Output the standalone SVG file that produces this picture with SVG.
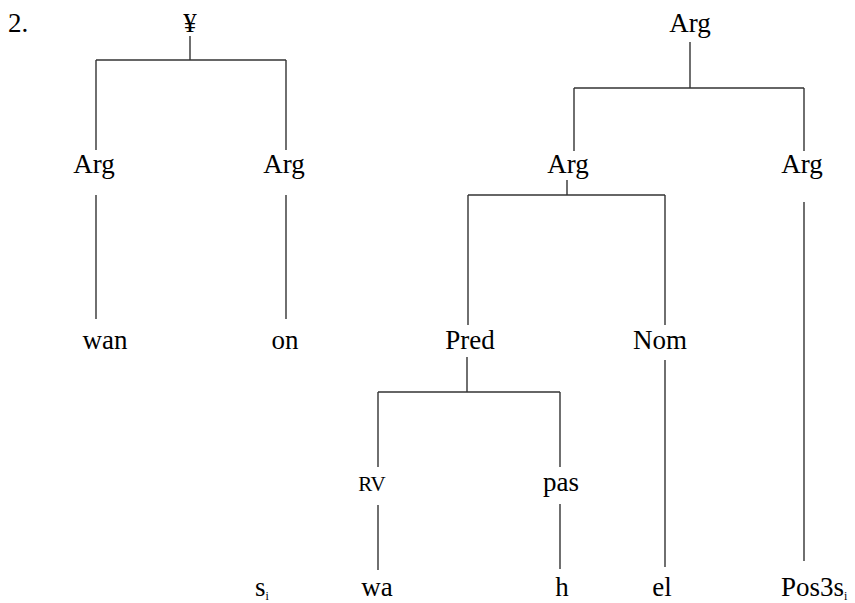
<svg xmlns="http://www.w3.org/2000/svg" width="855" height="603" viewBox="0 0 855 603">
  <style>
    .t text { font-family: "Liberation Serif", "Times New Roman", Times, Tinos, "Nimbus Roman", "Nimbus Roman No9 L", "Noto Serif", "DejaVu Serif", FreeSerif, serif; font-size: 27px; fill: #000; }
    .t text.c { text-anchor: middle; }
    .t text.small { font-size: 21px; }
    .t tspan.sub { font-size: 12px; }
    #connectors line { stroke: #333; stroke-width: 1.4; fill: none; }
  </style>
  <rect width="855" height="603" fill="#fff"/>

  <!-- tree branches -->
  <g id="connectors">
    <!-- left tree -->
    <line x1="190" y1="36" x2="190" y2="60"/>
    <line x1="96" y1="60" x2="286" y2="60"/>
    <line x1="96" y1="60" x2="96" y2="150"/>
    <line x1="286" y1="60" x2="286" y2="150"/>
    <line x1="96" y1="195" x2="96" y2="319"/>
    <line x1="286" y1="195" x2="286" y2="319"/>
    <!-- right tree -->
    <line x1="690" y1="42" x2="690" y2="88"/>
    <line x1="574" y1="88" x2="804" y2="88"/>
    <line x1="574" y1="88" x2="574" y2="151"/>
    <line x1="804" y1="88" x2="804" y2="151"/>
    <line x1="567" y1="180" x2="567" y2="195"/>
    <line x1="468" y1="195" x2="665" y2="195"/>
    <line x1="468" y1="195" x2="468" y2="325"/>
    <line x1="665" y1="195" x2="665" y2="325"/>
    <line x1="804" y1="202" x2="804" y2="561"/>
    <line x1="467" y1="357" x2="467" y2="392"/>
    <line x1="378" y1="392" x2="560" y2="392"/>
    <line x1="378" y1="392" x2="378" y2="467"/>
    <line x1="560" y1="392" x2="560" y2="467"/>
    <line x1="665" y1="360" x2="665" y2="567"/>
    <line x1="378" y1="505" x2="378" y2="570"/>
    <line x1="560" y1="504" x2="560" y2="569"/>
  </g>

  <g class="t">
    <!-- example number -->
    <g id="label-2"><text x="8" y="32">2.</text></g>

    <!-- left tree nodes -->
    <g id="yen"><text class="c" x="190" y="32">¥</text></g>
    <g id="arg-l1"><text class="c" x="94" y="173">Arg</text></g>
    <g id="arg-l2"><text class="c" x="284" y="173">Arg</text></g>
    <g id="wan"><text class="c" x="105" y="349">wan</text></g>
    <g id="on"><text class="c" x="285" y="349">on</text></g>

    <!-- right tree nodes -->
    <g id="arg-top"><text class="c" x="690" y="32">Arg</text></g>
    <g id="arg-mid"><text class="c" x="568" y="173">Arg</text></g>
    <g id="arg-right"><text class="c" x="802" y="173">Arg</text></g>
    <g id="pred"><text class="c" x="470" y="349">Pred</text></g>
    <g id="nom"><text class="c" x="660" y="349">Nom</text></g>
    <g id="rv"><text class="c small" x="372" y="491">RV</text></g>
    <g id="pas"><text class="c" x="561" y="491">pas</text></g>

    <!-- leaves -->
    <g id="s-i"><text x="255" y="596">s<tspan class="sub" dy="4">i</tspan></text></g>
    <g id="wa"><text class="c" x="377" y="596">wa</text></g>
    <g id="h"><text class="c" x="562" y="596">h</text></g>
    <g id="el"><text class="c" x="662" y="596">el</text></g>
    <g id="pos3s"><text x="781" y="596">Pos3s<tspan class="sub" dy="4">i</tspan></text></g>
  </g>
</svg>
